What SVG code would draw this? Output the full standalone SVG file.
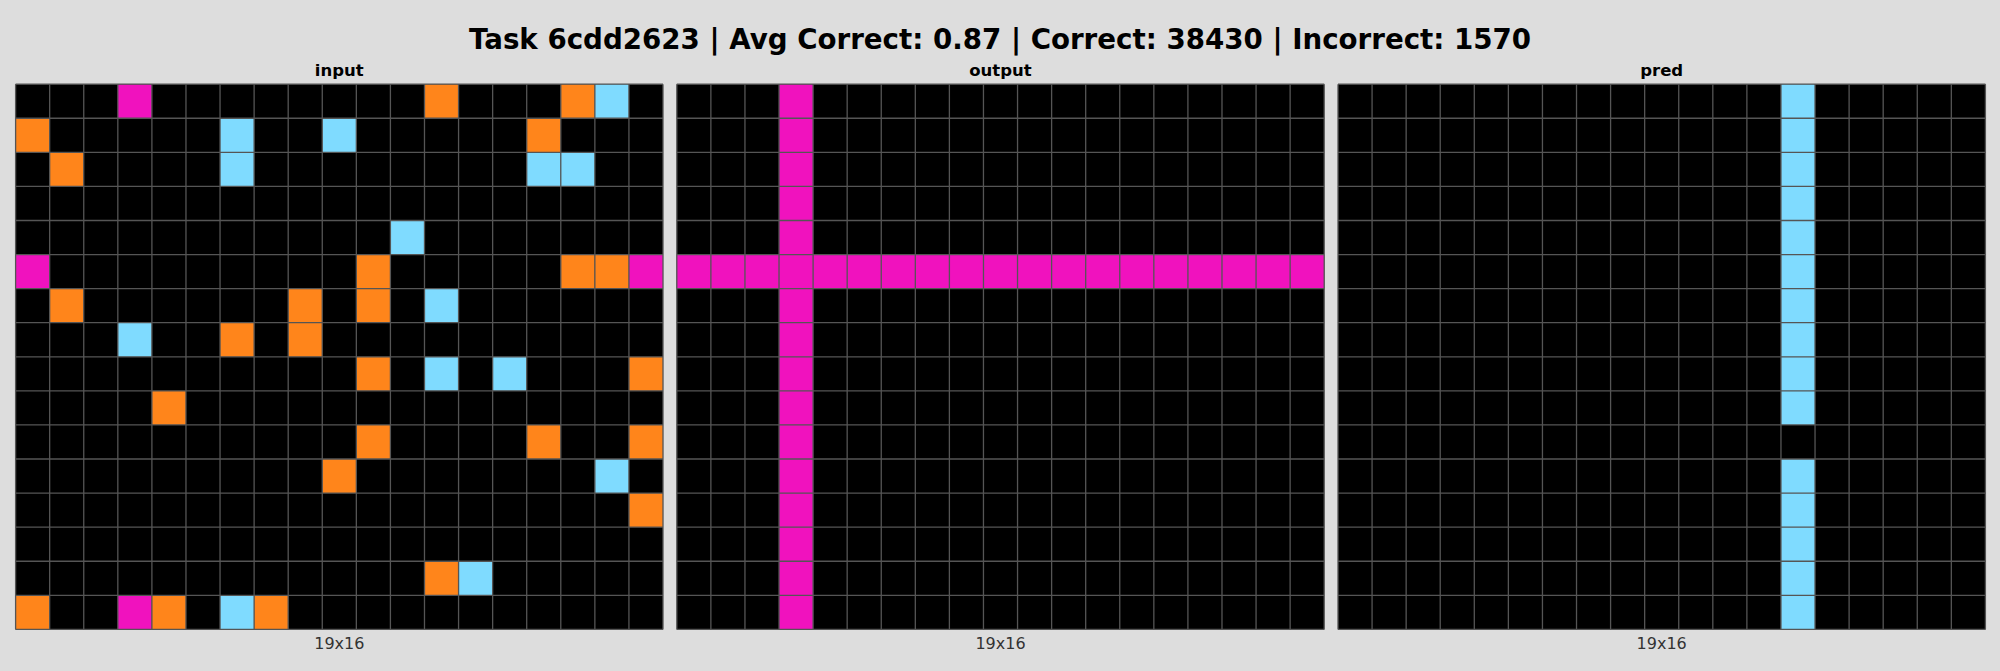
<svg xmlns="http://www.w3.org/2000/svg" width="2000" height="671" viewBox="0 0 2000 671">
<style>
.title{font-family:"DejaVu Sans","Liberation Sans",sans-serif;font-weight:bold;font-size:27.7px;fill:#000;text-anchor:middle}
.sub{font-family:"DejaVu Sans","Liberation Sans",sans-serif;font-weight:bold;font-size:16.5px;fill:#000;text-anchor:middle}
.dim{font-family:"DejaVu Sans","Liberation Sans",sans-serif;font-size:16px;fill:#333;text-anchor:middle}
.k{fill:#000}
.m{fill:#F012BE}
.o{fill:#FF851B}
.b{fill:#7FDBFF}
.grid{fill:none;stroke:#555;stroke-width:1.3}
</style>
<defs>
<path id="gl" class="grid" vector-effect="non-scaling-stroke" d="M0 0V16M1 0V16M2 0V16M3 0V16M4 0V16M5 0V16M6 0V16M7 0V16M8 0V16M9 0V16M10 0V16M11 0V16M12 0V16M13 0V16M14 0V16M15 0V16M16 0V16M17 0V16M18 0V16M19 0V16M0 0H19M0 1H19M0 2H19M0 3H19M0 4H19M0 5H19M0 6H19M0 7H19M0 8H19M0 9H19M0 10H19M0 11H19M0 12H19M0 13H19M0 14H19M0 15H19M0 16H19"/>
</defs>
<rect width="2000" height="671" fill="#DDDDDD"/>
<text class="title" x="1000" y="49">Task 6cdd2623 | Avg Correct: 0.87 | Correct: 38430 | Incorrect: 1570</text>

<g id="input">
<text class="sub" x="339.3" y="76">input</text>
<g transform="translate(15.6,84.2) scale(34.074)">
<rect class="k" width="19" height="16"/>
<rect class="m" x="3" y="0" width="1" height="1"/><rect class="o" x="12" y="0" width="1" height="1"/><rect class="o" x="16" y="0" width="1" height="1"/><rect class="b" x="17" y="0" width="1" height="1"/>
<rect class="o" x="0" y="1" width="1" height="1"/><rect class="b" x="6" y="1" width="1" height="1"/><rect class="b" x="9" y="1" width="1" height="1"/><rect class="o" x="15" y="1" width="1" height="1"/>
<rect class="o" x="1" y="2" width="1" height="1"/><rect class="b" x="6" y="2" width="1" height="1"/><rect class="b" x="15" y="2" width="1" height="1"/><rect class="b" x="16" y="2" width="1" height="1"/>
<rect class="b" x="11" y="4" width="1" height="1"/>
<rect class="m" x="0" y="5" width="1" height="1"/><rect class="o" x="10" y="5" width="1" height="1"/><rect class="o" x="16" y="5" width="1" height="1"/><rect class="o" x="17" y="5" width="1" height="1"/><rect class="m" x="18" y="5" width="1" height="1"/>
<rect class="o" x="1" y="6" width="1" height="1"/><rect class="o" x="8" y="6" width="1" height="1"/><rect class="o" x="10" y="6" width="1" height="1"/><rect class="b" x="12" y="6" width="1" height="1"/>
<rect class="b" x="3" y="7" width="1" height="1"/><rect class="o" x="6" y="7" width="1" height="1"/><rect class="o" x="8" y="7" width="1" height="1"/>
<rect class="o" x="10" y="8" width="1" height="1"/><rect class="b" x="12" y="8" width="1" height="1"/><rect class="b" x="14" y="8" width="1" height="1"/><rect class="o" x="18" y="8" width="1" height="1"/>
<rect class="o" x="4" y="9" width="1" height="1"/>
<rect class="o" x="10" y="10" width="1" height="1"/><rect class="o" x="15" y="10" width="1" height="1"/><rect class="o" x="18" y="10" width="1" height="1"/>
<rect class="o" x="9" y="11" width="1" height="1"/><rect class="b" x="17" y="11" width="1" height="1"/>
<rect class="o" x="18" y="12" width="1" height="1"/>
<rect class="o" x="12" y="14" width="1" height="1"/><rect class="b" x="13" y="14" width="1" height="1"/>
<rect class="o" x="0" y="15" width="1" height="1"/><rect class="m" x="3" y="15" width="1" height="1"/><rect class="o" x="4" y="15" width="1" height="1"/><rect class="b" x="6" y="15" width="1" height="1"/><rect class="o" x="7" y="15" width="1" height="1"/>
<use href="#gl"/>
</g>
<text class="dim" x="339.3" y="648.5">19x16</text>
</g>

<g id="output">
<text class="sub" x="1000.5" y="76">output</text>
<g transform="translate(676.8,84.2) scale(34.074)">
<rect class="k" width="19" height="16"/>
<rect class="m" x="3" y="0" width="1" height="16"/>
<rect class="m" x="0" y="5" width="19" height="1"/>
<use href="#gl"/>
</g>
<text class="dim" x="1000.5" y="648.5">19x16</text>
</g>

<g id="pred">
<text class="sub" x="1661.7" y="76">pred</text>
<g transform="translate(1338,84.2) scale(34.074)">
<rect class="k" width="19" height="16"/>
<rect class="b" x="13" y="0" width="1" height="10"/>
<rect class="b" x="13" y="11" width="1" height="5"/>
<use href="#gl"/>
</g>
<text class="dim" x="1661.7" y="648.5">19x16</text>
</g>

<g id="connectors"></g>
</svg>
